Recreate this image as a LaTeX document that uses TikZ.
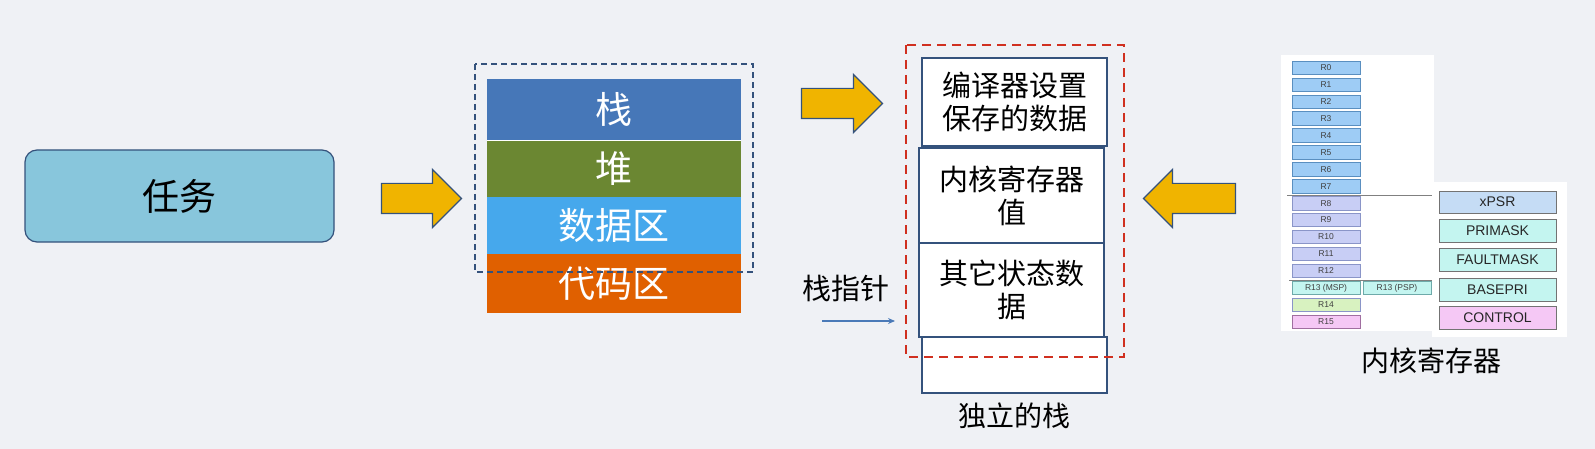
\documentclass[tikz,border=0pt]{standalone}
\usepackage{fontspec}
\setmainfont{Liberation Sans}
\newfontfamily\cjk{Noto Sans CJK SC}
\usepackage{xcolor}
\usetikzlibrary{positioning,shapes.arrows,arrows.meta}

\definecolor{bgcol}{RGB}{239,241,245}
\definecolor{edgeblue}{RGB}{52,82,124}
\definecolor{taskfill}{RGB}{136,198,220}
\definecolor{arrowfill}{RGB}{240,180,0}
\definecolor{stackcol}{RGB}{70,119,184}
\definecolor{heapcol}{RGB}{107,135,50}
\definecolor{datacol}{RGB}{70,168,236}
\definecolor{codecol}{RGB}{224,96,0}
\definecolor{reddash}{RGB}{208,48,32}
\definecolor{spblue}{RGB}{74,122,184}
\definecolor{rlow}{RGB}{158,204,245}
\definecolor{rlowedge}{RGB}{90,143,192}
\definecolor{rhigh}{RGB}{200,206,245}
\definecolor{rhighedge}{RGB}{138,149,200}
\definecolor{rcyan}{RGB}{196,245,240}
\definecolor{rcyanedge}{RGB}{110,170,170}
\definecolor{rgreen}{RGB}{216,242,192}
\definecolor{rpink}{RGB}{245,200,245}
\definecolor{rpinkedge}{RGB}{160,110,160}
\definecolor{rxpsr}{RGB}{197,220,245}

\begin{document}
\begin{tikzpicture}[
  x=1pt, y=-1pt,
  >=Stealth,
  node distance=6pt,
  taskbox/.style={rectangle, rounded corners=12pt, draw=edgeblue, line width=1.2pt, fill=taskfill, minimum width=309pt, minimum height=92pt, font={\cjk\fontsize{37}{40}\selectfont}},
  fatarrow/.style={single arrow, draw=edgeblue, line width=1.2pt, fill=arrowfill, inner xsep=0pt, inner ysep=14.5pt, single arrow head extend=14pt, single arrow head indent=0pt},
  memblk/.style={rectangle, inner sep=0pt, minimum width=254pt, text=white, font={\cjk\fontsize{37}{40}\selectfont}},
  cell/.style={rectangle, draw=edgeblue, line width=1.2pt, fill=white, minimum width=185pt, inner sep=0pt, align=center, font={\cjk\fontsize{29}{33}\selectfont}},
  lbl/.style={font={\cjk\fontsize{28}{32}\selectfont}},
  reg/.style={rectangle, draw=#1, line width=0.6pt, minimum width=68pt, minimum height=13.4pt, inner sep=0pt, font=\fontsize{8.5}{9}\selectfont, text=black!75},
  sreg/.style={rectangle, draw=black!55, line width=0.8pt, minimum width=117pt, minimum height=23pt, inner sep=0pt, font=\fontsize{14}{15}\selectfont, text=black!85}
]
\useasboundingbox (0,0) rectangle (1595,449);
\fill[bgcol] (0,0) rectangle (1595,449);

% task and first arrow
\node[taskbox] (task) at (179.5,196) {任务};
\node[fatarrow, minimum height=80pt] (a1) at (414,198.5) {};

% memory layout
\node[memblk, fill=stackcol, minimum height=61pt] (mstack) at (614,109.5) {栈};
\node[memblk, fill=heapcol, minimum height=57pt] (mheap) at (614,168.5) {堆};
\node[memblk, fill=datacol, minimum height=57pt] (mdata) at (614,225.5) {数据区};
\node[memblk, fill=codecol, minimum height=59pt] (mcode) at (614,283.5) {代码区};
\draw[white, line width=1pt] (mstack.south west) -- (mstack.south east);
\draw[edgeblue, dashed, line width=1.2pt, dash pattern=on 6pt off 4pt] (475,64) rectangle (753,272);

\node[fatarrow, minimum height=81pt] (a2) at (834.5,103.5) {};

% task stack
\node[cell, minimum height=88pt] (c1) at (1014.5,102) {编译器设置\\保存的数据};
\node[cell, minimum height=56pt] (c4) at (1014.5,365) {};
\node[cell, line width=2pt, minimum height=95pt] (c2) at (1011.5,195.5) {内核寄存器\\值};
\node[cell, line width=2pt, minimum height=94pt] (c3) at (1011.5,290) {其它状态数\\据};
\draw[reddash, line width=2pt, dash pattern=on 9pt off 6pt] (906,45) rectangle (1124,357);
\node[lbl, below=of c4] (stklbl) {独立的栈};

\node[lbl, font={\cjk\fontsize{29}{32}\selectfont}] (sp) at (846,288) {栈指针};
\coordinate (sptail) at (822,321);
\coordinate (sphead) at (895,321);
\draw[-{Stealth[length=7pt,width=6pt]}, spblue, line width=1.3pt] (sptail) -- (sphead);

\node[fatarrow, minimum height=92pt, shape border rotate=180] (a3) at (1197,198.5) {};

% core registers
\fill[white] (1281,55) rectangle (1434,331);
\fill[white] (1432,182) rectangle (1567,337);
\foreach \i in {0,...,7}
  \node[reg=rlowedge, fill=rlow] (r\i) at (1326,67.7+16.93*\i) {R\i};
\foreach \i in {8,...,12}
  \node[reg=rhighedge, fill=rhigh] (r\i) at (1326,67.7+16.93*\i) {R\i};
\node[reg=rcyanedge, fill=rcyan] (msp) at (1326,287.8) {R13 (MSP)};
\node[reg=rcyanedge, fill=rcyan] (psp) at (1397,287.8) {R13 (PSP)};
\node[reg=rhighedge, fill=rgreen] (r14) at (1326,304.7) {R14};
\node[reg=rpinkedge, fill=rpink] (r15) at (1326,321.6) {R15};
\draw[black!50, line width=0.8pt] (1287,195) -- (1432,195);
\draw[black!50, line width=0.6pt] (1289,280) -- (1432,280);

\node[sreg, fill=rxpsr, minimum height=22pt] (xpsr) at (1497.5,202) {xPSR};
\node[sreg, fill=rcyan] (primask) at (1497.5,231) {PRIMASK};
\node[sreg, fill=rcyan] (faultmask) at (1497.5,260) {FAULTMASK};
\node[sreg, fill=rcyan] (basepri) at (1497.5,289.5) {BASEPRI};
\node[sreg, fill=rpink] (control) at (1497.5,317.5) {CONTROL};

\node[lbl] (reglbl) at (1431,361) {内核寄存器};
\end{tikzpicture}
\end{document}
